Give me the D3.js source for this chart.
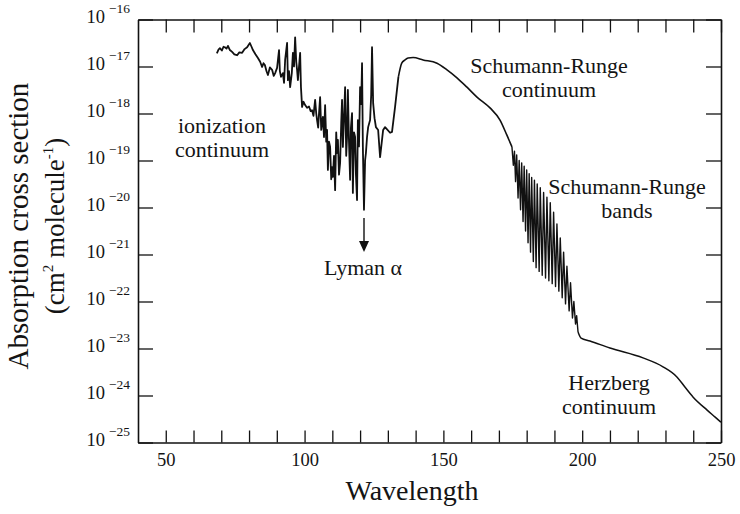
<!DOCTYPE html>
<html><head><meta charset="utf-8">
<script src="https://cdn.jsdelivr.net/npm/d3@7/dist/d3.min.js"></script>
<style>
body{margin:0;background:#fff}
text{font-family:"Liberation Serif","Times New Roman",serif;fill:#141414}
</style>
</head><body>
<svg id="c" width="740" height="514"></svg>
<script>
// ---- axis ticks ----
const xTicks = [50,60,70,80,90,100,110,120,130,140,150,160,170,180,190,200,210,220,230,240,250];
const xLabels = [50,100,150,200,250];
const yExponents = [-16,-17,-18,-19,-20,-21,-22,-23,-24,-25];

// ---- data: wavelength and log10(cross section) ----
// ionization continuum + Lyman-alpha region (noisy)
const ionWl  = [68.4,69.0,69.5,70.2,70.8,71.3,71.9,72.4,73.1,73.9,74.7,75.7,76.5,77.5,78.4,79.3,80.3,80.9,81.4,82.3,83.2,84.0,84.7,85.2,85.7,86.3,86.8,87.5,88.3,88.9,89.4,90.1,90.8,91.1,91.5,92.2,92.6,93.0,93.7,94.0,94.4,94.8,95.4,95.8,96.2,96.6,97.0,97.3,97.6,98.0,98.4,98.7,99.1,99.6,100.2,100.9,101.6,102.2,102.7,103.2,103.8,104.2,104.5,104.9,105.2,105.6,106.0,106.3,106.6,107.0,107.4,107.8,108.1,108.4,108.8,109.2,109.6,109.9,110.2,110.6,111.0,111.4,111.7,112.0,112.4,112.8,113.2,113.5,113.8,114.2,114.6,115.0,115.3,115.6,116.0,116.4,116.7,117.1,117.4,117.8,118.2,118.5,118.9,119.2,119.6,120.0,120.4,120.7,121.0,121.4,121.8,122.1,122.5,122.9,123.6,124.0,124.3,124.7,125.2,125.7,126.5,127.2,128.3,129.0,130.8,131.5,132.6,133.8];
const ionLog = [-16.72,-16.64,-16.61,-16.66,-16.58,-16.59,-16.62,-16.56,-16.65,-16.69,-16.74,-16.76,-16.70,-16.71,-16.63,-16.59,-16.50,-16.58,-16.65,-16.74,-16.82,-16.90,-17.01,-16.93,-16.97,-17.10,-17.18,-17.02,-17.07,-17.20,-17.14,-17.03,-16.65,-17.10,-17.22,-17.14,-17.35,-16.86,-16.50,-17.29,-17.10,-17.44,-17.14,-16.71,-17.00,-16.38,-16.90,-17.07,-17.29,-17.00,-16.71,-17.44,-17.86,-17.75,-17.82,-17.88,-17.85,-17.95,-17.93,-18.05,-17.71,-18.00,-18.14,-18.30,-18.00,-17.65,-18.35,-18.20,-18.07,-18.50,-17.82,-18.60,-18.35,-19.20,-18.60,-18.71,-19.40,-19.14,-19.35,-18.90,-19.63,-18.40,-18.84,-18.56,-19.30,-19.05,-18.20,-17.71,-18.71,-18.10,-17.44,-18.90,-18.50,-17.50,-18.60,-19.41,-18.30,-17.99,-19.69,-18.40,-18.50,-19.30,-19.84,-18.14,-18.70,-17.44,-17.80,-16.93,-18.71,-20.05,-19.00,-18.84,-18.50,-18.29,-18.14,-17.60,-16.59,-17.78,-18.10,-18.29,-18.35,-18.93,-18.35,-18.29,-18.41,-18.39,-17.86,-17.22];
// Schumann-Runge continuum (smooth)
const srcWl  = [133.8,135.0,136.2,137.3,139.1,142.7,147.7,151.3,154.9,158.5,162.1,166.8,170.4,172.8,174.7];
const srcLog = [-17.22,-16.93,-16.86,-16.82,-16.81,-16.86,-16.93,-17.07,-17.24,-17.44,-17.65,-17.88,-18.14,-18.45,-18.71];
// Schumann-Runge bands (peaks and troughs)
const srbWl  = [174.7,175.2,175.6,176.0,176.4,176.9,177.3,177.8,178.2,178.7,179.1,179.6,180.0,180.5,180.9,181.4,181.8,182.4,182.8,183.4,183.8,184.5,184.9,185.6,186.1,186.8,187.3,188.0,188.5,189.2,189.7,190.4,190.9,191.6,192.1,192.8,193.3,194.0,194.5,195.3,195.8,196.5,197.0,197.6,198.0,198.5];
const srbLog = [-18.71,-19.10,-18.80,-19.45,-18.88,-19.80,-19.00,-20.05,-19.05,-20.30,-19.12,-20.50,-19.20,-20.75,-19.28,-20.95,-19.36,-21.15,-19.42,-21.28,-19.50,-21.36,-19.58,-21.44,-19.68,-21.50,-19.78,-21.56,-19.90,-21.62,-20.10,-21.68,-20.35,-21.78,-20.65,-21.92,-20.95,-22.05,-21.25,-22.20,-21.60,-22.35,-22.00,-22.48,-22.30,-22.65];
// Herzberg continuum (smooth)
const herzWl  = [198.5,199.6,202.8,210.0,221.9,229.1,234.2,237.0,239.9,245.0,247.9,250.0];
const herzLog = [-22.65,-22.78,-22.84,-22.99,-23.20,-23.39,-23.61,-23.82,-24.03,-24.31,-24.46,-24.57];

// ---- layout ----
const svg = d3.select("#c");
const L = 138, R = 721, T = 19.5, B = 442.5;
const x = d3.scaleLinear().domain([40,250]).range([L,R]);
const y = d3.scaleLog().domain([1e-25,1e-16]).range([B,T]);

function pts(wl, lg){ return wl.map((w,i)=>({w, v: Math.pow(10, lg[i])})); }
const line = (curve)=> d3.line().x(d=>x(d.w)).y(d=>y(d.v)).curve(curve);

const plot = svg.append("g");
plot.append("path").datum(pts(ionWl,ionLog)).attr("d", line(d3.curveLinear))
  .attr("fill","none").attr("stroke","#111").attr("stroke-width",1.8).attr("stroke-linejoin","round");
plot.append("path").datum(pts(srcWl,srcLog)).attr("d", line(d3.curveMonotoneX))
  .attr("fill","none").attr("stroke","#111").attr("stroke-width",1.6);
plot.append("path").datum(pts(srbWl,srbLog)).attr("d", line(d3.curveLinear))
  .attr("fill","none").attr("stroke","#111").attr("stroke-width",1.4).attr("stroke-linejoin","round");
plot.append("path").datum(pts(herzWl,herzLog)).attr("d", line(d3.curveMonotoneX))
  .attr("fill","none").attr("stroke","#111").attr("stroke-width",1.5);

// ---- axes ----
const yTickVals = yExponents.map(e=>Math.pow(10,e));
const gB = svg.append("g").attr("transform",`translate(0,${B})`)
  .call(d3.axisBottom(x).tickValues(xTicks).tickSizeInner(-12).tickSizeOuter(0).tickPadding(10)
    .tickFormat(d=> xLabels.includes(d) ? d : ""));
const gT = svg.append("g").attr("transform",`translate(0,${T})`)
  .call(d3.axisTop(x).tickValues(xTicks).tickSizeInner(-13).tickSizeOuter(0).tickFormat(""));
const gL = svg.append("g").attr("transform",`translate(${L},0)`)
  .call(d3.axisLeft(y).tickValues(yTickVals).tickSizeInner(-15).tickSizeOuter(0).tickPadding(8).tickFormat(""));
const gR = svg.append("g").attr("transform",`translate(${R},0)`)
  .call(d3.axisRight(y).tickValues(yTickVals).tickSizeInner(-15).tickSizeOuter(0).tickFormat(""));

[gB,gT,gL,gR].forEach(g=>{
  g.selectAll(".domain").attr("stroke","#111").attr("stroke-width",1.6);
  g.selectAll(".tick line").attr("stroke","#111").attr("stroke-width",1.3);
});
gB.selectAll(".tick text").attr("font-size",18.5).attr("fill","#141414")
  .attr("font-family","'Liberation Serif',serif");

gL.selectAll(".tick text").each(function(d,i){
  const t = d3.select(this).attr("font-family","'Liberation Serif',serif").attr("fill","#141414");
  t.append("tspan").attr("font-size",18.5).text("10");
  t.append("tspan").attr("font-size",13.5).attr("dy","-0.75em").attr("dx","4").text("\u2212" + (-yExponents[i]));
});

// ---- axis titles ----
svg.append("text").attr("x",412).attr("y",500).attr("text-anchor","middle")
  .attr("font-size",28).text("Wavelength");

const yt = svg.append("g").attr("transform","translate(28,226) rotate(-90)");
yt.append("text").attr("x",0).attr("y",0).attr("text-anchor","middle").attr("font-size",29)
  .text("Absorption cross section");
const yt2 = yt.append("text").attr("x",0).attr("y",36).attr("text-anchor","middle").attr("font-size",27);
yt2.append("tspan").text("(cm");
yt2.append("tspan").attr("font-size",15).attr("dy","-11").text("2");
yt2.append("tspan").attr("dy","11").text(" molecule");
yt2.append("tspan").attr("font-size",15).attr("dy","-11").text("-1");
yt2.append("tspan").attr("dy","11").text(")");

// ---- annotations ----
const notes = [
  {t:["ionization","continuum"], x:222, y:133},
  {t:["Schumann-Runge","continuum"], x:549, y:73},
  {t:["Schumann-Runge","bands"], x:627, y:194},
  {t:["Herzberg","continuum"], x:609, y:390},
  {t:["Lyman \u03b1"], x:363, y:275}
];
notes.forEach(n=>{
  const tx = svg.append("text").attr("text-anchor","middle").attr("font-size",22);
  n.t.forEach((s,i)=> tx.append("tspan").attr("x",n.x).attr("y",n.y + i*24).text(s));
});

// Lyman alpha arrow
svg.append("line").attr("x1",364).attr("x2",364).attr("y1",218).attr("y2",244)
  .attr("stroke","#111").attr("stroke-width",1.4);
svg.append("path").attr("d","M359,241 L369,241 L364,252 Z").attr("fill","#111");
</script>
</body></html>
